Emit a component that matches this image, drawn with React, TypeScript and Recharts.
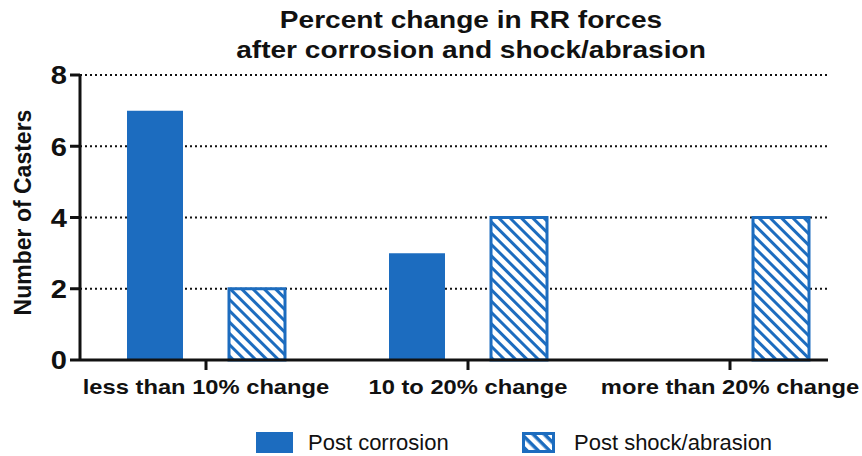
import React from "react";
import { BarChart, Bar, XAxis, YAxis, CartesianGrid, Legend } from "recharts";

const categories = ["less than 10% change", "10 to 20% change", "more than 20% change"];
const postCorrosion = [7, 3, 0];
const postShock = [2, 4, 4];
const yTicks = [0, 2, 4, 6, 8];
const seriesNames = ["Post corrosion", "Post shock/abrasion"];
const titleLines = ["Percent change in RR forces", "after corrosion and shock/abrasion"];
const yLabel = "Number of Casters";

const BLUE = "#1c6cbf";
const INK = "#111";
const FONT = "'Liberation Sans', Arial, Helvetica, sans-serif";

const data = categories.map((c, i) => ({ name: c, a: postCorrosion[i], b: postShock[i] }));

const XTick = (props: any) => {
  const { x, y, payload } = props;
  return (
    <text
      transform={`translate(${x},${y + 22}) scale(1.13,1)`}
      textAnchor="middle"
      fill={INK}
      fontSize={21}
      fontWeight="bold"
      fontFamily={FONT}
    >
      {payload.value}
    </text>
  );
};

const YTick = (props: any) => {
  const { x, y, payload } = props;
  return (
    <text
      transform={`translate(${x - 1},${y}) scale(1.12,1)`}
      textAnchor="end"
      dy="0.36em"
      fill={INK}
      fontSize={26}
      fontWeight="bold"
      fontFamily={FONT}
    >
      {payload.value}
    </text>
  );
};

const YLabel = (props: any) => {
  const vb = props.viewBox || { x: 0, y: 75, width: 80, height: 285 };
  const cy = vb.y + vb.height / 2 - 5;
  return (
    <text
      transform={`translate(23,${cy}) rotate(-90)`}
      textAnchor="middle"
      dominantBaseline="central"
      fill={INK}
      fontSize={23}
      fontWeight="bold"
      fontFamily={FONT}
    >
      {yLabel}
    </text>
  );
};

const LegendContent = () => (
  <div style={{ display: "flex", alignItems: "center", paddingTop: 22, height: 21, fontFamily: FONT, fontSize: 22, color: INK }}>
    <svg width={37} height={21} style={{ marginLeft: 256, marginRight: 15, flex: "none" }}>
      <rect x={0} y={0} width={37} height={21} fill={BLUE} />
    </svg>
    <span style={{ width: 214, flex: "none", whiteSpace: "nowrap" }}>{seriesNames[0]}</span>
    <svg width={33} height={21} style={{ marginRight: 19, flex: "none" }}>
      <rect x={1.5} y={1.5} width={30} height={18} fill="url(#hatchL)" stroke={BLUE} strokeWidth={3} />
    </svg>
    <span style={{ whiteSpace: "nowrap" }}>{seriesNames[1]}</span>
  </div>
);

export default function App() {
  return (
    <div style={{ position: "absolute", left: 0, top: 0, width: 862, height: 456, background: "#fff", overflow: "hidden" }}>
      <div
        style={{
          position: "absolute",
          left: 0,
          width: 942,
          top: 5,
          textAlign: "center",
          fontFamily: FONT,
          fontWeight: "bold",
          fontSize: 24,
          lineHeight: "30px",
          color: INK,
          transform: "scaleX(1.17)",
          transformOrigin: "471px 0",
        }}
      >
        {titleLines[0]}
        <br />
        {titleLines[1]}
      </div>
      <BarChart
        width={862}
        height={456}
        data={data}
        margin={{ top: 75, right: 34, left: 0, bottom: 0 }}
        barCategoryGap={52}
        barGap={46}
      >
        <defs>
          <pattern id="hatch" patternUnits="userSpaceOnUse" width={8} height={8} patternTransform="rotate(45)">
            <rect x={0} y={0} width={8} height={8} fill="#fff" />
            <rect x={0} y={0} width={8} height={3} fill={BLUE} />
          </pattern>
          <pattern id="hatchL" patternUnits="userSpaceOnUse" width={8} height={8} patternTransform="rotate(45)">
            <rect x={0} y={0} width={8} height={8} fill="#fff" />
            <rect x={0} y={0} width={8} height={3.5} fill={BLUE} />
          </pattern>
        </defs>
        <CartesianGrid vertical={false} stroke={INK} strokeWidth={2} strokeDasharray="2 3" />
        <XAxis
          dataKey="name"
          height={50}
          padding={{ left: -5, right: -33 }}
          axisLine={{ stroke: INK, strokeWidth: 3 }}
          tickLine={{ stroke: INK, strokeWidth: 3 }}
          tickSize={10}
          tick={<XTick />}
          interval={0}
        />
        <YAxis
          width={80}
          domain={[0, 8]}
          ticks={yTicks}
          axisLine={{ stroke: INK, strokeWidth: 3 }}
          tickLine={{ stroke: INK, strokeWidth: 3 }}
          tickSize={10}
          tick={<YTick />}
          label={{ content: (p: any) => <YLabel {...p} /> }}
        />
        <Legend verticalAlign="bottom" height={46} wrapperStyle={{ left: 0, width: 862 }} content={<LegendContent />} />
        <Bar dataKey="a" name={seriesNames[0]} fill={BLUE} isAnimationActive={false} />
        <Bar dataKey="b" name={seriesNames[1]} fill="url(#hatch)" stroke={BLUE} strokeWidth={3} isAnimationActive={false} />
      </BarChart>
    </div>
  );
}
